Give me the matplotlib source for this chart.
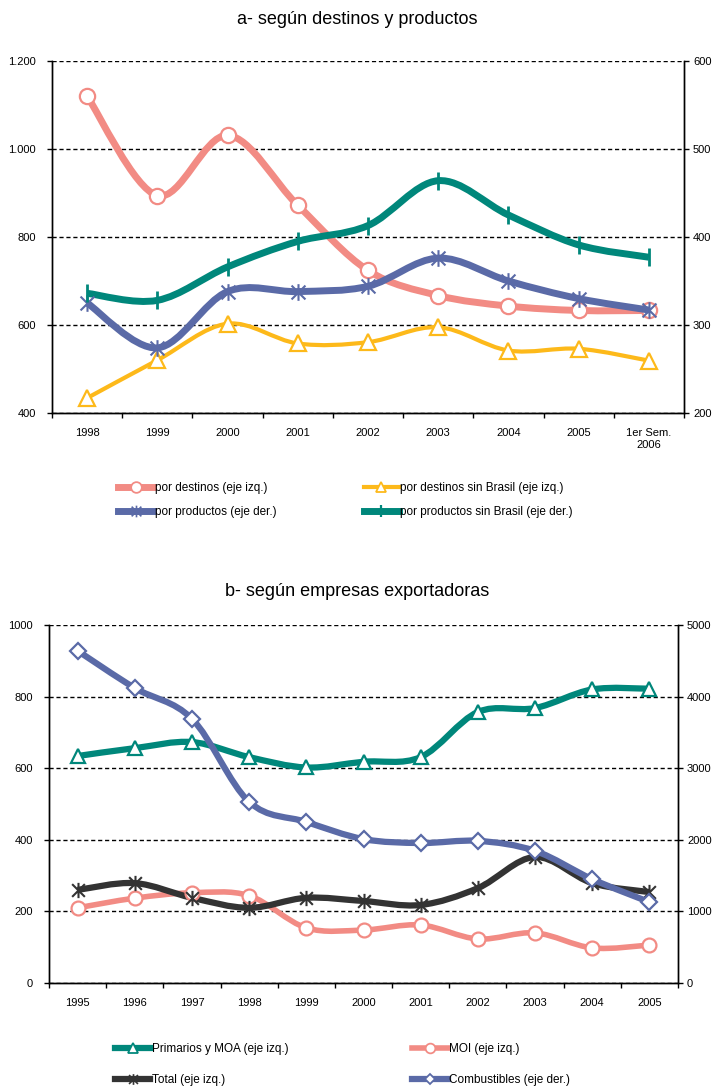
import matplotlib
matplotlib.use("Agg")
from matplotlib import pyplot as plt
from matplotlib.path import Path
from matplotlib.patches import PathPatch
from matplotlib.lines import Line2D

plt.rcParams['font.family'] = ['Liberation Sans', 'DejaVu Sans']

# a- según destinos y productos
years_a = ["1998", "1999", "2000", "2001", "2002", "2003", "2004", "2005", "1er Sem.\n2006"]
destinos = [1120, 894, 1031, 872, 724, 667, 643, 633, 633]
destinos_sin_brasil = [434, 520, 603, 558, 561, 595, 542, 546, 519]
productos = [325, 274, 338, 338, 344, 376, 350, 330, 317]
productos_sin_brasil = [336, 328, 366, 395, 413, 464, 425, 391, 377]
ticks_a_left = [400, 600, 800, 1000, 1200]
labels_a_left = ["400", "600", "800", "1.000", "1.200"]
ticks_a_right = [200, 300, 400, 500, 600]
labels_a_right = ["200", "300", "400", "500", "600"]

# b- según empresas exportadoras
years_b = ["1995", "1996", "1997", "1998", "1999", "2000", "2001", "2002", "2003", "2004", "2005"]
primarios = [634, 656, 673, 631, 602, 618, 631, 757, 768, 820, 822]
moi = [210, 237, 252, 244, 154, 148, 162, 123, 140, 98, 106]
total = [260, 279, 238, 210, 238, 229, 218, 265, 352, 279, 254]
combustibles = [4640, 4120, 3690, 2530, 2250, 2010, 1955, 1985, 1845, 1450, 1130]
ticks_b_left = [0, 200, 400, 600, 800, 1000]
labels_b_left = ["0", "200", "400", "600", "800", "1000"]
ticks_b_right = [0, 1000, 2000, 3000, 4000, 5000]
labels_b_right = ["0", "1000", "2000", "3000", "4000", "5000"]

PINK = '#F28B84'
YELLOW = '#FDB91A'
BLUE = '#5A6AA7'
TEAL = '#00877B'
BLACK = '#333333'

# excel "star" marker: an x with a vertical bar through it
STAR = Path([(-1, -1), (1, 1), (-1, 1), (1, -1), (0, -1.2), (0, 1.2)],
            [Path.MOVETO, Path.LINETO] * 3)


def smooth_path(xs, ys):
    # excel-like smoothed line as bezier segments
    pts = list(zip(xs, ys))
    n = len(pts)
    verts = [pts[0]]
    codes = [Path.MOVETO]
    for i in range(n - 1):
        p0 = pts[max(i - 1, 0)]
        p1 = pts[i]
        p2 = pts[i + 1]
        p3 = pts[min(i + 2, n - 1)]
        c1 = (p1[0] + (p2[0] - p0[0]) / 6, p1[1] + (p2[1] - p0[1]) / 6)
        c2 = (p2[0] - (p3[0] - p1[0]) / 6, p2[1] - (p3[1] - p1[1]) / 6)
        verts += [c1, c2, p2]
        codes += [Path.CURVE4] * 3
    return Path(verts, codes)


def draw(ax, y, color, lw, marker, ms, mew, mfc='white'):
    x = list(range(len(y)))
    ax.add_patch(PathPatch(smooth_path(x, y), fill=False, edgecolor=color, lw=lw,
                           capstyle='butt', joinstyle='round'))
    ax.plot(x, y, linestyle='none', marker=marker, ms=ms, mfc=mfc, mec=color, mew=mew)
    return Line2D([], [], color=color, lw=lw, marker=marker, ms=ms * 0.7, mfc=mfc,
                  mec=color, mew=mew * 0.8)


def setup(ax, ax2, labels, lt, ll, rt, rl):
    n = len(labels)
    ax.set_xlim(-0.5, n - 0.5)
    ax.set_xticks(range(n))
    ax.set_xticklabels(labels, fontsize=8)
    ax.set_xticks([i - 0.5 for i in range(n + 1)], minor=True)
    ax.tick_params(axis='x', which='major', length=0, pad=11)
    ax.tick_params(axis='x', which='minor', length=3.5, width=1, direction='out')
    ax.set_ylim(lt[0], lt[-1])
    ax.set_yticks(lt)
    ax.set_yticklabels(ll, fontsize=8)
    ax.tick_params(axis='y', length=3.5, width=1, direction='out', pad=8)
    ax2.set_ylim(rt[0], rt[-1])
    ax2.set_yticks(rt)
    ax2.set_yticklabels(rl, fontsize=8)
    ax2.tick_params(axis='y', length=3.5, width=1, direction='out', pad=3)
    ax.yaxis.grid(True, linestyle=(0, (3, 2)), color='black', lw=1)
    ax.set_axisbelow(True)
    for a in (ax, ax2):
        a.spines['top'].set_visible(False)
        for s in ('left', 'right', 'bottom'):
            a.spines[s].set_color('black')
            a.spines[s].set_linewidth(1)


fig = plt.figure(figsize=(7.14, 10.86), dpi=100)

# chart a
ax = fig.add_axes([52 / 714, 1 - 413 / 1086, 632 / 714, 352 / 1086])
ax2 = ax.twinx()
setup(ax, ax2, years_a, ticks_a_left, labels_a_left, ticks_a_right, labels_a_right)
h1 = draw(ax, destinos, PINK, 5, 'o', 11, 1.6)
h2 = draw(ax, destinos_sin_brasil, YELLOW, 3, '^', 11, 1.6)
h3 = draw(ax2, productos, BLUE, 5, STAR, 12, 1.5)
h4 = draw(ax2, productos_sin_brasil, TEAL, 5, '|', 13, 2)
fig.text(0.5, 1 - 20 / 1086, "a- según destinos y productos", ha='center', va='center', fontsize=13)
fig.legend([h1, h3, h2, h4],
           ["por destinos (eje izq.)", "por productos (eje der.)",
            "por destinos sin Brasil (eje izq.)", "por productos sin Brasil (eje der.)"],
           ncol=2, loc='upper left', bbox_to_anchor=(118 / 714, 1 - 482 / 1086),
           frameon=False, fontsize=8.5, handlelength=3.0, handletextpad=0.1,
           columnspacing=7.4, labelspacing=1.0, borderpad=0, borderaxespad=0)

# chart b
bx = fig.add_axes([49 / 714, 1 - 983 / 1086, 629 / 714, 358 / 1086])
bx2 = bx.twinx()
setup(bx, bx2, years_b, ticks_b_left, labels_b_left, ticks_b_right, labels_b_right)
g1 = draw(bx, primarios, TEAL, 4.5, '^', 10, 1.6)
g2 = draw(bx, moi, PINK, 4, 'o', 10, 1.6)
g3 = draw(bx, total, BLACK, 4.5, STAR, 11, 1.5)
g4 = draw(bx2, combustibles, BLUE, 4.5, 'D', 8, 1.6)
fig.text(0.5, 1 - 591 / 1086, "b- según empresas exportadoras", ha='center', va='center', fontsize=13)
fig.legend([g1, g3, g2, g4],
           ["Primarios y MOA (eje izq.)", "Total (eje izq.)",
            "MOI (eje izq.)", "Combustibles (eje der.)"],
           ncol=2, loc='upper left', bbox_to_anchor=(115 / 714, 1 - 1043 / 1086),
           frameon=False, fontsize=8.5, handlelength=3.0, handletextpad=0.1,
           columnspacing=10.5, labelspacing=1.6, borderpad=0, borderaxespad=0)

fig.savefig("out.png", dpi=100)
